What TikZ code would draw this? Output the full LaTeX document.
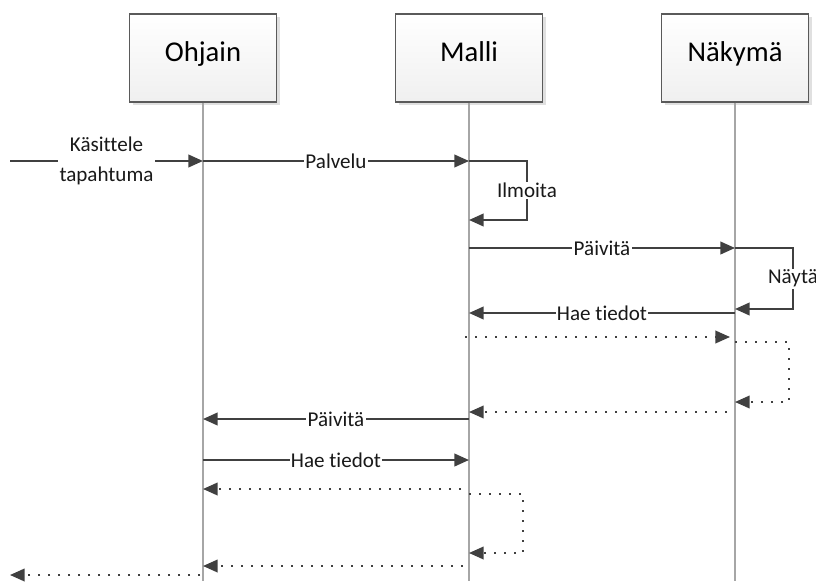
\documentclass[tikz,border=0pt]{standalone}
\usepackage{fontspec}
\setmainfont{Carlito}[Ligatures=CommonOff]
\usetikzlibrary{arrows.meta,shadows}
\definecolor{ink}{HTML}{404040}
\definecolor{life}{HTML}{A6A6A6}
\definecolor{frame}{HTML}{5A5A5A}
\tikzset{
  actor/.style={draw=frame, line width=0.8pt, top color=white, bottom color=black!6,
    minimum width=110.25pt, minimum height=66pt, font=\fontsize{21.5}{24}\selectfont,
    text height=0.72em, text depth=0.2em,
    drop shadow={shadow xshift=2.5pt, shadow yshift=-2.5pt, fill=black!12, opacity=1}},
  lifeline/.style={draw=life, line width=1.5pt},
  msg/.style={draw=ink, line width=1.5pt, -{Triangle[length=11pt,width=9.5pt]}},
  reply/.style={draw=ink, line width=1.3pt, dash pattern=on 1.3pt off 6.2pt,
    -{Triangle[length=11pt,width=9.5pt]}},
  lbl/.style={fill=white, inner sep=1pt, font=\fontsize{15.8}{17}\selectfont, text=black!90},
}
\begin{document}
\begin{tikzpicture}[x=0.75pt, y=-0.75pt]
\useasboundingbox (0,0) rectangle (816,581);
% participants
\node[actor] (o) at (203,58) {Ohjain};
\node[actor] (m) at (469,58) {Malli};
\node[actor] (n) at (735,58) {Näkymä};
% lifelines
\coordinate (oe) at (203,581);
\coordinate (me) at (469,581);
\coordinate (ne) at (735,581);
\coordinate (in) at (10,161);
\coordinate (out) at (10,575);
\draw[lifeline] (o.south) -- (oe);
\draw[lifeline] (m.south) -- (me);
\draw[lifeline] (n.south) -- (ne);
% messages
\draw[msg] (in) -- node[lbl, align=center, font=\fontsize{15.8}{22}\selectfont] {Käsittele\\tapahtuma} (o |- in);
\draw[msg] (o |- 0,161) -- node[lbl] {Palvelu} (m |- 0,161);
\draw[msg] (m |- 0,161) -- (527,161) -- node[lbl] {Ilmoita} (527,220) -- (m |- 0,220);
\draw[msg] (m |- 0,248) -- node[lbl] {Päivitä} (n |- 0,248);
\draw[msg] (n |- 0,248) -- (793,248) -- node[lbl] {Näytä} (793,309) -- (n |- 0,309);
\draw[msg] (n |- 0,313) -- node[lbl] {Hae tiedot} (m |- 0,313);
\draw[reply] (465,337) -- (730,337);
\draw[reply] (n |- 0,342) -- (789,342) -- (789,402) -- (n |- 0,402);
\draw[reply] (727,412) -- (m |- 0,412);
\draw[msg] (m |- 0,419) -- node[lbl] {Päivitä} (o |- 0,419);
\draw[msg] (o |- 0,460) -- node[lbl] {Hae tiedot} (m |- 0,460);
\draw[reply] (461,489) -- (o |- 0,489);
\draw[reply] (m |- 0,494) -- (523,494) -- (523,553) -- (m |- 0,553);
\draw[reply] (463,566) -- (o |- 0,566);
\draw[reply] (200,575) -- (out);
\end{tikzpicture}
\end{document}
